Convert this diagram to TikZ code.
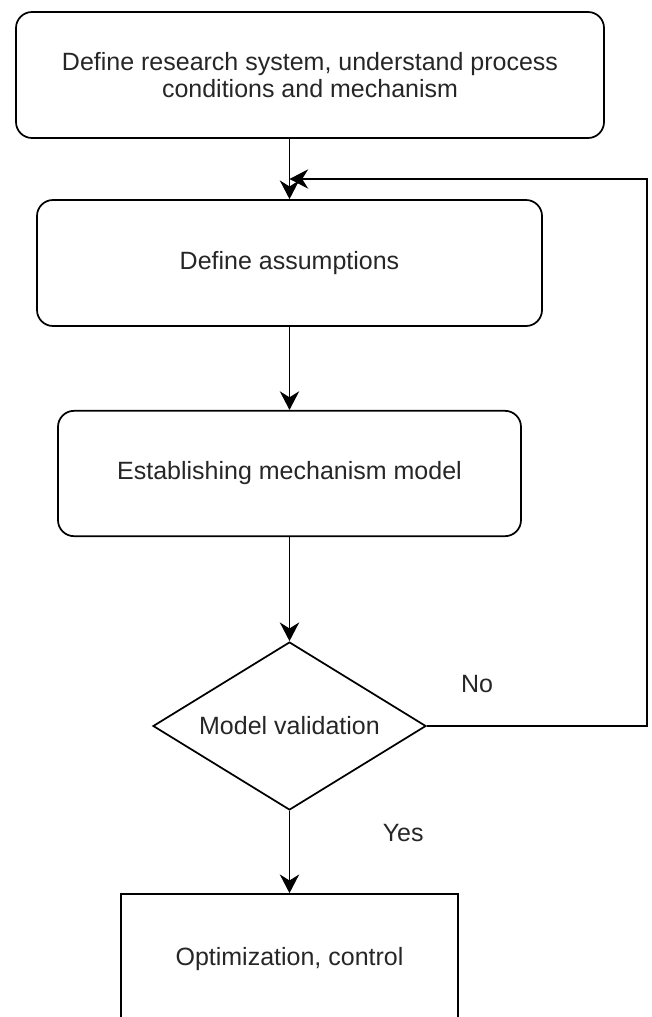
\documentclass[tikz,border=0pt]{standalone}
\usepackage{fontspec}
\setmainfont{Liberation Sans}
\usetikzlibrary{shapes.geometric,arrows.meta}
\definecolor{txtgray}{RGB}{38,38,38}

\begin{document}
\begin{tikzpicture}[x=0.75pt, y=-0.75pt,
	every node/.style={font=\fontsize{18.75}{20.25}\selectfont, text=txtgray},
	stepbox/.style={draw, line width=1.3pt, rounded corners=12pt, align=center, inner sep=0pt},
	plainbox/.style={draw, line width=1.3pt, align=center, inner sep=0pt},
	checkbox/.style={draw, diamond, line width=1.3pt, aspect=1.625, inner sep=0pt, minimum width=204.75pt, minimum height=126pt},
	arr/.style={line width=1.3pt, -{Stealth[length=14pt, width=14.5pt, inset=4.5pt]}}]
	\useasboundingbox (0,0) rectangle (652,1017);
	\clip (0,0) rectangle (652,1017);
	% flow steps
	\node[stepbox, minimum width=441pt, minimum height=94.5pt] (define) at (310,75) {Define research system, understand process\\conditions and mechanism};
	\node[stepbox, minimum width=378.75pt, minimum height=94.5pt] (assume) at (289.5,263) {Define assumptions};
	\node[stepbox, minimum width=347.25pt, minimum height=94pt] (model) at (289.5,473.5) {Establishing mechanism model};
	\node[checkbox] (valid) at (289.5,726) {Model validation};
	\node[plainbox, minimum width=252.75pt, minimum height=97.5pt] (optim) at (289.5,959) {Optimization, control};
	% connectors
	\draw[arr] (define.south -| assume.north) -- (assume.north);
	\draw[arr] (assume) -- (model);
	\draw[arr] (model) -- (valid);
	\draw[arr] (valid) -- (optim) node[pos=0.27, right=66pt] (yes) {Yes};
	% feedback loop
	\coordinate (rturn) at (647,179);
	\coordinate (merge) at (289.5,179);
	\draw[arr] (valid.east) -| (rturn) -- (merge);
	\node (no) at (477,684) {No};
\end{tikzpicture}
\end{document}
